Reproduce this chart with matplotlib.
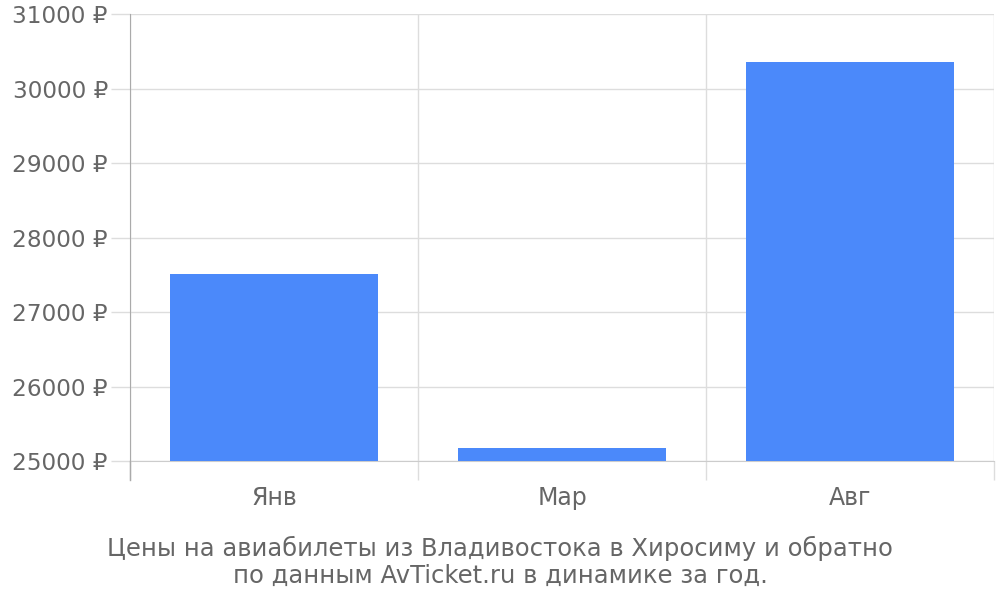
import matplotlib
matplotlib.use("Agg")
import matplotlib.pyplot as plt
from matplotlib.lines import Line2D

categories = ["Янв", "Мар", "Авг"]
prices = [27510, 25175, 30355]
yticks = [25000, 26000, 27000, 28000, 29000, 30000, 31000]
caption = "Цены на авиабилеты из Владивостока в Хиросиму и обратно\nпо данным AvTicket.ru в динамике за год."

plt.rcParams['font.family'] = ['DejaVu Sans']
fig = plt.figure(figsize=(10, 6), dpi=100)
ax = fig.add_axes([0.13, 1 - 461 / 600, 0.994 - 0.13, (461 - 14) / 600])

x = list(range(len(categories)))
base = yticks[0]
ax.bar(x, [p - base for p in prices], bottom=base, width=0.72, color="#4b89fa", zorder=3)

ax.set_xlim(-0.5, len(categories) - 0.5)
ax.set_ylim(yticks[0], yticks[-1])
ax.set_yticks(yticks)
ax.set_yticklabels([f"{v} ₽" for v in yticks])
ax.set_xticks(x)
ax.set_xticklabels(categories)
ax.set_xticks([i - 0.5 for i in range(len(categories) + 1)], minor=True)

ax.grid(True, axis="y", which="major", color="#dddddd", linewidth=1, zorder=0)
ax.grid(True, axis="x", which="minor", color="#dddddd", linewidth=1, zorder=0)

ax.tick_params(axis="x", which="major", length=0, pad=18, labelsize=17, labelcolor="#666666")
ax.tick_params(axis="x", which="minor", length=14, color="#dddddd", width=1)
ax.tick_params(axis="y", which="major", length=14, color="#dddddd", width=1, pad=2,
               labelsize=16.7, labelcolor="#666666")

for s in ["top", "right"]:
    ax.spines[s].set_visible(False)
ax.spines["bottom"].set_color("#cccccc")
ax.spines["left"].set_color("#aaaaaa")
ax.spines["left"].set_zorder(4)

# left axis line extends below the plot area
ax.add_line(Line2D([0, 0], [0, -19 / 447], transform=ax.transAxes, color="#aaaaaa",
                   linewidth=1, clip_on=False))

fig.text(0.5, 1 - 562 / 600, caption, ha="center", va="center", fontsize=17.5,
         color="#666666", linespacing=1.15)

fig.savefig("out.png", dpi=100)
